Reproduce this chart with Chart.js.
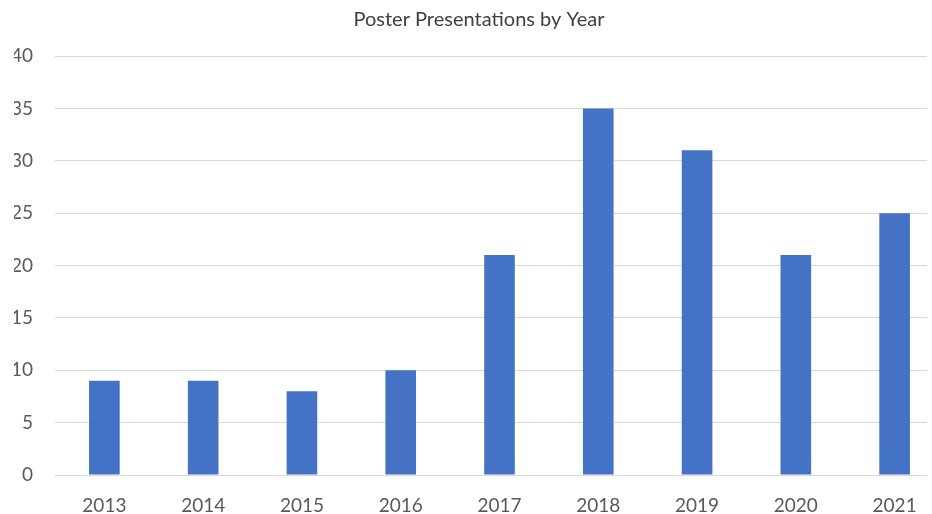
<!DOCTYPE html>
<html>
<head>
<meta charset="utf-8">
<script src="https://cdn.jsdelivr.net/npm/chart.js@4"></script>
<style>
    html, body { margin: 0; padding: 0; background: #fff; overflow: hidden; }
    #wrap { width: 927px; height: 514px; overflow: hidden; }
    #box { width: 958px; height: 514px; }
</style>
</head>
<body>
<div id="wrap"><div id="box"><canvas id="chartPosters"></canvas></div></div>
<script>
const years = ['2013', '2014', '2015', '2016', '2017', '2018', '2019', '2020', '2021'];
const posters = [9, 9, 8, 10, 21, 35, 31, 21, 25];
const yTicks = [0, 5, 10, 15, 20, 25, 30, 35, 40];

document.addEventListener("DOMContentLoaded", function () {
    var ctx = document.getElementById('chartPosters').getContext('2d');
    var chart = new Chart(ctx, {
        type: 'bar',
        data: {
            labels: years,
            datasets: [{
                label: 'Posters',
                data: posters,
                backgroundColor: '#4472C4',
                borderWidth: 0,
                categoryPercentage: 1,
                barPercentage: 0.31
            }]
        },
        options: {
            responsive: true,
            maintainAspectRatio: false,
            animation: false,
            layout: { padding: { left: 14, right: 14, top: 0, bottom: 0 } },
            plugins: {
                legend: { display: false },
                tooltip: { enabled: false },
                title: {
                    display: true,
                    text: 'Poster Presentations by Year',
                    color: '#404040',
                    font: { family: 'Lato', size: 20, weight: 'normal' },
                    padding: { top: 8, bottom: 24 }
                }
            },
            scales: {
                x: {
                    grid: { display: false },
                    border: { display: true, color: '#d9d9d9' },
                    ticks: { color: '#595959', font: { family: 'Lato', size: 19 }, padding: 11 },
                    afterFit: function (scale) { scale.height = 39; }
                },
                y: {
                    min: 0,
                    max: 40,
                    afterBuildTicks: function (scale) {
                        scale.ticks = yTicks.map(v => ({ value: v }));
                    },
                    grid: { color: '#d9d9d9', lineWidth: 1, drawTicks: false },
                    border: { display: false },
                    ticks: { color: '#595959', font: { family: 'Lato', size: 19 }, padding: 22 },
                    afterFit: function (scale) { scale.width = 41; }
                }
            }
        }
    });
});
</script>
</body>
</html>
